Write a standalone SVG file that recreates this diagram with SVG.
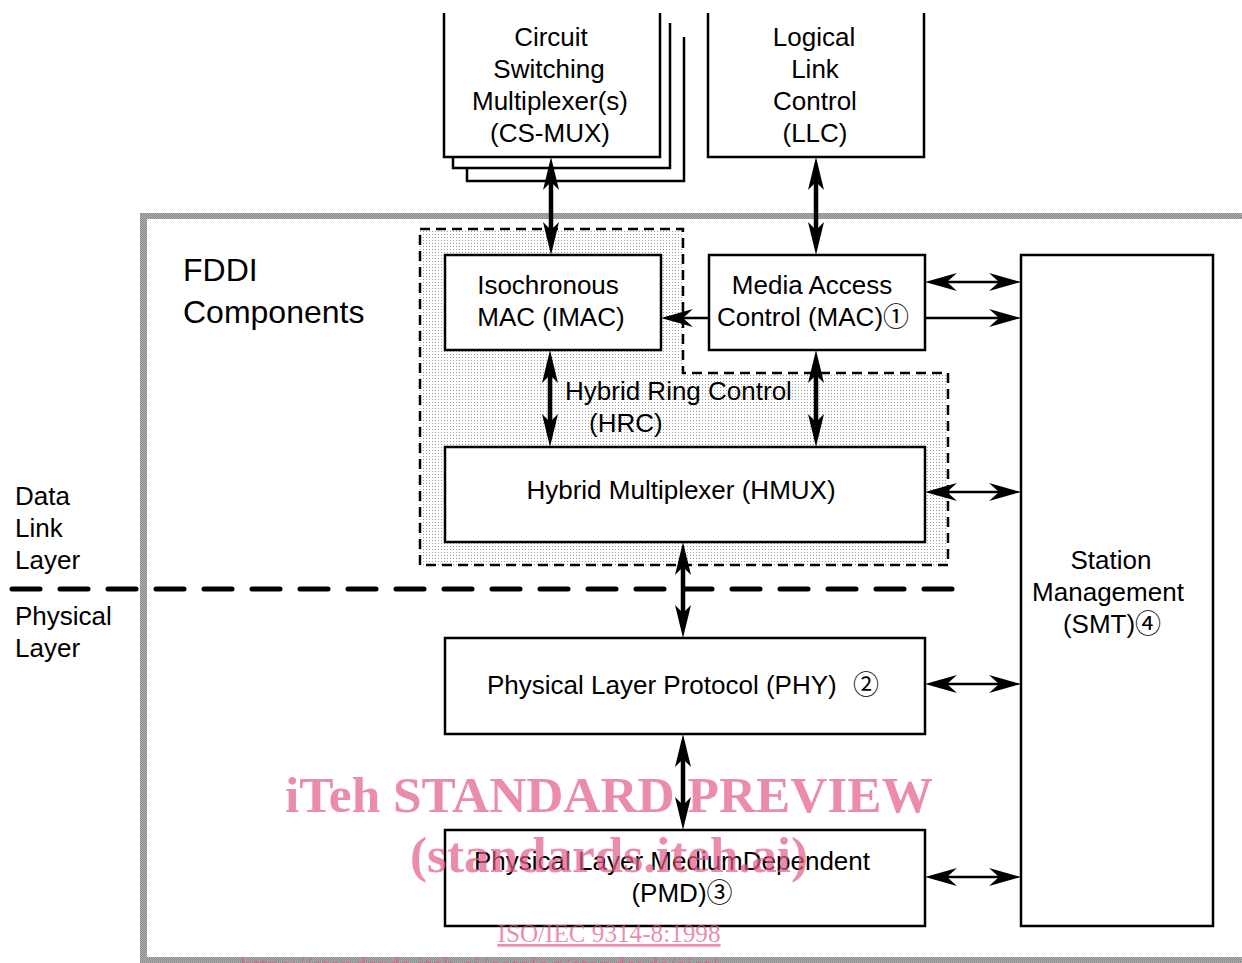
<svg xmlns="http://www.w3.org/2000/svg" width="1242" height="963" viewBox="0 0 1242 963">
<style>
.box{fill:#fff;stroke:#000;stroke-width:2.5}
.open{fill:none;stroke:#000;stroke-width:2.5}
.t{font-family:"Liberation Sans",Arial,"Noto Sans CJK JP",sans-serif;font-size:26px;fill:#000}
.c{text-anchor:middle}
.thick{stroke:#000;stroke-width:4.5;fill:none;marker-start:url(#hk);marker-end:url(#hk)}
.thin{stroke:#000;stroke-width:2.5;fill:none;marker-end:url(#hn)}
.both{marker-start:url(#hn)}
.wm{font-family:"Liberation Serif","Times New Roman",serif;fill:rgb(226,91,134);fill-opacity:0.7}
</style>
<defs>
<pattern id="dots" width="3" height="3" patternUnits="userSpaceOnUse">
<rect width="3" height="3" fill="#fff"/>
<rect width="1" height="1" fill="#9a9a9a"/>
</pattern>
<pattern id="band" width="2" height="2" patternUnits="userSpaceOnUse">
<rect width="2" height="2" fill="#b0b0b0"/>
<rect width="1" height="1" fill="#8a8a8a"/>
<rect x="1" y="1" width="1" height="1" fill="#8a8a8a"/>
</pattern>
<marker id="hk" markerUnits="userSpaceOnUse" orient="auto-start-reverse" markerWidth="40" markerHeight="40" refX="0" refY="0" viewBox="-20 -20 40 40" overflow="visible">
<path d="M16,0 L-17,-8 L-9,0 L-17,8 Z" fill="#000"/>
</marker>
<marker id="hn" markerUnits="userSpaceOnUse" orient="auto-start-reverse" markerWidth="40" markerHeight="40" refX="0" refY="0" viewBox="-20 -20 40 40" overflow="visible">
<path d="M10,0 L-22,-9 L-12,0 L-22,9 Z" fill="#000"/>
</marker>
</defs>
<rect width="1242" height="963" fill="#fff"/>

<g id="frame">
<rect x="140" y="213" width="1102" height="6" fill="url(#band)"/>
<rect x="140" y="213" width="7" height="750" fill="url(#band)"/>
<rect x="140" y="957" width="1102" height="6" fill="url(#band)"/>
</g>

<g id="hrc">
<path d="M420,229 H683 V373 H948 V565 H420 Z" fill="url(#dots)" stroke="#000" stroke-width="2.5" stroke-dasharray="10 6"/>
<text class="t" x="565" y="400">Hybrid Ring Control</text>
<text class="t" x="589" y="432">(HRC)</text>
</g>

<g id="layers">
<line x1="12" y1="589" x2="955" y2="589" stroke="#000" stroke-width="5" stroke-linecap="round" stroke-dasharray="28 20"/>
<text class="t" x="15" y="505">Data</text>
<text class="t" x="15" y="537">Link</text>
<text class="t" x="15" y="569">Layer</text>
<text class="t" x="15" y="625">Physical</text>
<text class="t" x="15" y="657">Layer</text>
</g>

<g id="fddi">
<text class="t" x="183" y="281" style="font-size:32px">FDDI</text>
<text class="t" x="183" y="323" style="font-size:32px">Components</text>
</g>

<g id="csmux">
<path class="open" d="M467,168 V181 H684 V37"/>
<path class="open" d="M453,157 V168 H670 V23"/>
<path class="open" d="M444,13 V157 H660 V13"/>
<text class="t c" x="551" y="46">Circuit</text>
<text class="t c" x="549" y="78">Switching</text>
<text class="t c" x="550" y="110">Multiplexer(s)</text>
<text class="t c" x="550" y="142">(CS-MUX)</text>
</g>

<g id="llc">
<path class="open" d="M708,13 V157 H924 V13"/>
<text class="t c" x="814" y="46">Logical</text>
<text class="t c" x="815" y="78">Link</text>
<text class="t c" x="815" y="110">Control</text>
<text class="t c" x="815" y="142">(LLC)</text>
</g>

<g id="imac">
<rect class="box" x="445" y="255" width="216" height="95"/>
<text class="t c" x="548" y="294">Isochronous</text>
<text class="t c" x="551" y="326">MAC (IMAC)</text>
</g>

<g id="mac">
<rect class="box" x="709" y="255" width="216" height="95"/>
<text class="t c" x="812" y="294">Media Access</text>
<text class="t c" x="813" y="326">Control (MAC)①</text>
</g>

<g id="hmux">
<rect class="box" x="445" y="447" width="480" height="95"/>
<text class="t c" x="681" y="499">Hybrid Multiplexer (HMUX)</text>
</g>

<g id="phy">
<rect class="box" x="445" y="638" width="480" height="96"/>
<text class="t" x="487" y="694">Physical Layer Protocol (PHY)</text>
<text class="t" x="853" y="694">②</text>
</g>

<g id="pmd">
<rect class="box" x="445" y="830" width="480" height="96"/>
<text class="t c" x="672" y="870">Physical Layer MediumDependent</text>
<text class="t c" x="682" y="902">(PMD)③</text>
</g>

<g id="smt">
<rect class="box" x="1021" y="255" width="192" height="671"/>
<text class="t c" x="1111" y="569">Station</text>
<text class="t c" x="1108" y="601">Management</text>
<text class="t c" x="1112" y="633">(SMT)④</text>
</g>

<g id="connectors">
<line class="thick" x1="551" y1="173" x2="551" y2="239"/>
<line class="thick" x1="816" y1="173" x2="816" y2="239"/>
<line class="thick" x1="550" y1="366" x2="550" y2="431"/>
<line class="thick" x1="816" y1="366" x2="816" y2="431"/>
<line class="thick" x1="683" y1="558" x2="683" y2="622"/>
<line class="thick" x1="683" y1="750" x2="683" y2="814"/>
<line class="thin" x1="709" y1="318" x2="671" y2="318"/>
<line class="thin both" x1="935" y1="282" x2="1011" y2="282"/>
<line class="thin" x1="925" y1="318" x2="1011" y2="318"/>
<line class="thin both" x1="935" y1="492" x2="1011" y2="492"/>
<line class="thin both" x1="935" y1="684" x2="1011" y2="684"/>
<line class="thin both" x1="935" y1="877" x2="1011" y2="877"/>
</g>

<g id="watermark">
<text class="wm" x="609" y="812" text-anchor="middle" font-weight="bold" font-size="50" textLength="648" lengthAdjust="spacingAndGlyphs">iTeh STANDARD PREVIEW</text>
<text class="wm" x="609" y="872" text-anchor="middle" font-weight="bold" font-size="50" textLength="398" lengthAdjust="spacingAndGlyphs">(standards.iteh.ai)</text>
<text class="wm" x="609" y="942" text-anchor="middle" font-size="26" text-decoration="underline" textLength="223" lengthAdjust="spacingAndGlyphs">ISO/IEC 9314-8:1998</text>
<text class="wm" x="240" y="974" font-size="26" text-decoration="underline">https://standards.iteh.ai/catalog/standards/sist/</text>
</g>
</svg>
